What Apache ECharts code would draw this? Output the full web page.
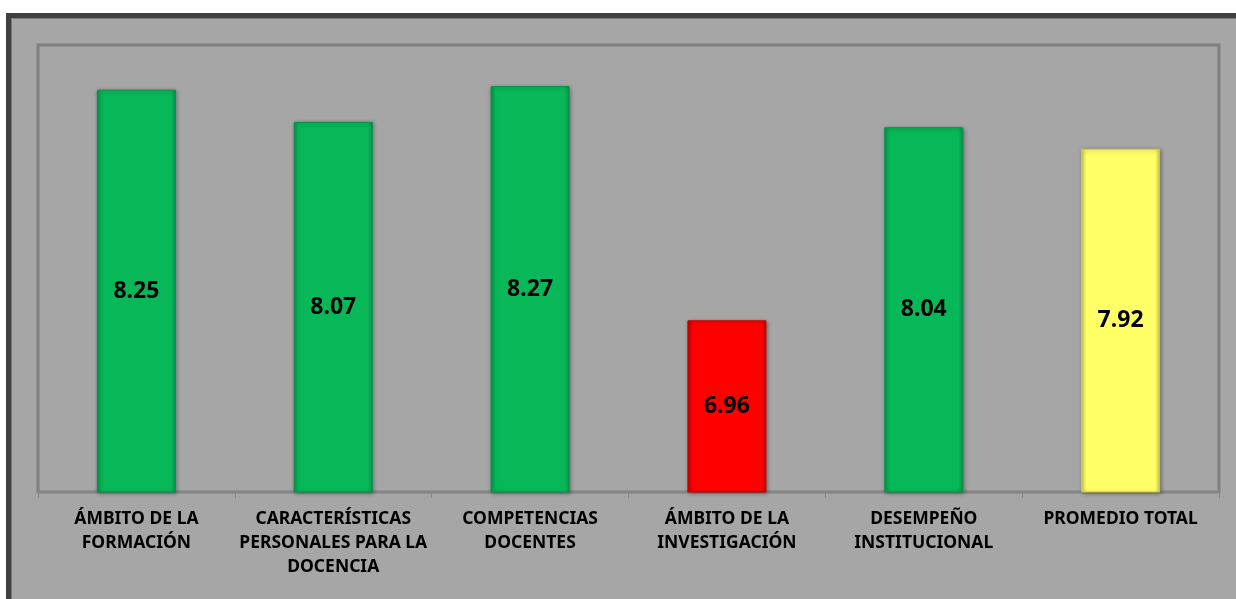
<!DOCTYPE html>
<html>
<head>
<meta charset="utf-8">
<script src="https://cdn.jsdelivr.net/npm/echarts@6/dist/echarts.min.js"></script>
<style>
  html, body { margin: 0; padding: 0; background: #ffffff; overflow: hidden; }
  #frame {
    position: absolute; left: 6px; top: 13px; width: 1260px; height: 620px;
    background: #a6a6a6; border-top: 5px solid #404040; border-left: 5px solid #404040;
    box-shadow: inset 1px 1px 0 #7a7a7a;
  }
  #chart { position: absolute; left: 0; top: 0; width: 1236px; height: 599px; }
</style>
</head>
<body>
<div id="frame"></div>
<div id="chart"></div>
<script>
  const categories = [
    "ÁMBITO DE LA\nFORMACIÓN",
    "CARACTERÍSTICAS\nPERSONALES PARA LA\nDOCENCIA",
    "COMPETENCIAS\nDOCENTES",
    "ÁMBITO DE LA\nINVESTIGACIÓN",
    "DESEMPEÑO\nINSTITUCIONAL",
    "PROMEDIO TOTAL"
  ];
  const values = [8.25, 8.07, 8.27, 6.96, 8.04, 7.92];
  const barColors = ["green", "green", "green", "red", "green", "yellow"];

  const palette = {
    green: { main: "#08b858", dark: "#06934a" },
    red: { main: "#ff0000", dark: "#c00000" },
    yellow: { main: "#ffff66", dark: "#c8c84a" }
  };

  // side bevel, like the Excel bar style
  function bevel(name) {
    const p = palette[name];
    return new echarts.graphic.LinearGradient(0, 0, 1, 0, [
      { offset: 0, color: p.dark },
      { offset: 0.06, color: p.main },
      { offset: 0.94, color: p.main },
      { offset: 1, color: p.dark }
    ]);
  }

  const chart = echarts.init(document.getElementById("chart"), null, { renderer: "canvas" });
  chart.setOption({
    backgroundColor: "transparent",
    animation: false,
    grid: {
      show: true,
      left: 38,
      top: 45,
      right: 17,
      bottom: 107,
      borderColor: "#7f7f7f",
      borderWidth: 3,
      backgroundColor: "transparent"
    },
    xAxis: {
      type: "category",
      data: categories,
      axisLine: { lineStyle: { color: "#868686", width: 2 } },
      axisTick: { show: true, length: 6, lineStyle: { color: "#868686", width: 1 } },
      axisLabel: {
        interval: 0,
        margin: 15,
        color: "#000000",
        fontFamily: "Noto Sans",
        fontWeight: "bold",
        fontSize: 17.5,
        lineHeight: 24
      }
    },
    yAxis: {
      type: "value",
      min: 6,
      max: 8.5,
      show: false,
      splitLine: { show: false }
    },
    series: [{
      type: "bar",
      barWidth: 79,
      data: values.map((v, i) => ({
        value: v,
        itemStyle: {
          color: bevel(barColors[i]),
          borderColor: palette[barColors[i]].dark,
          borderWidth: 1,
          shadowColor: "rgba(0,0,0,0.35)",
          shadowBlur: 4,
          shadowOffsetX: 1,
          shadowOffsetY: 1
        }
      })),
      label: {
        show: true,
        position: "inside",
        color: "#000000",
        fontFamily: "Noto Sans",
        fontWeight: "bold",
        fontSize: 23,
        formatter: (p) => p.value.toFixed(2)
      }
    }]
  });
</script>
</body>
</html>
